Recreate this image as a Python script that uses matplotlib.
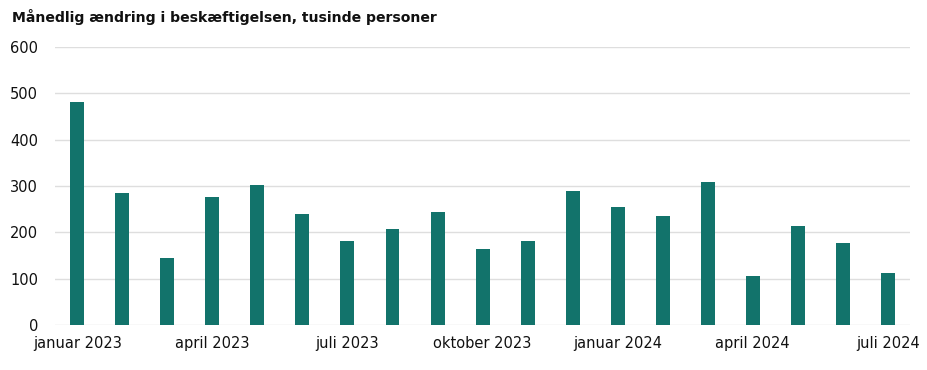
import matplotlib
matplotlib.use("Agg")
import matplotlib.pyplot as plt
import numpy as np

months = ["januar 2023", "februar 2023", "marts 2023", "april 2023", "maj 2023", "juni 2023",
          "juli 2023", "august 2023", "september 2023", "oktober 2023", "november 2023",
          "december 2023", "januar 2024", "februar 2024", "marts 2024", "april 2024",
          "maj 2024", "juni 2024", "juli 2024"]
values = [481, 285, 144, 277, 302, 239, 182, 208, 244, 164, 181, 289, 255, 235, 309, 106, 214, 178, 112]
tick_idx = [0, 3, 6, 9, 12, 15, 18]
yticks = [0, 100, 200, 300, 400, 500, 600]
title = "Månedlig ændring i beskæftigelsen, tusinde personer"

plt.rcParams['font.family'] = ['DejaVu Sans']
fig = plt.figure(figsize=(9.28, 3.70), dpi=100)
ax = fig.add_axes([0.059, 0.1216, 0.922, 0.7514])
x = np.arange(len(values))
ax.bar(x, values, width=0.31, color="#12736b", zorder=3)
ax.set_xlim(-0.5, len(values) - 0.5)
ax.set_ylim(0, 600)
ax.set_yticks(yticks)
ax.set_yticklabels([str(v) for v in yticks])
ax.set_xticks(tick_idx)
ax.set_xticklabels([months[i] for i in tick_idx])
ax.grid(axis="y", color="#dedede", linewidth=1, zorder=0)
for s in ax.spines.values():
    s.set_visible(False)
ax.tick_params(axis="both", length=0, labelsize=10.5, colors="#111111")
ax.tick_params(axis="y", pad=12)
ax.tick_params(axis="x", pad=8)
fig.text(0.013, 0.955, title, fontsize=10.1, fontweight="bold", color="#111111", va="center", ha="left")
fig.savefig("out.png", dpi=100)
